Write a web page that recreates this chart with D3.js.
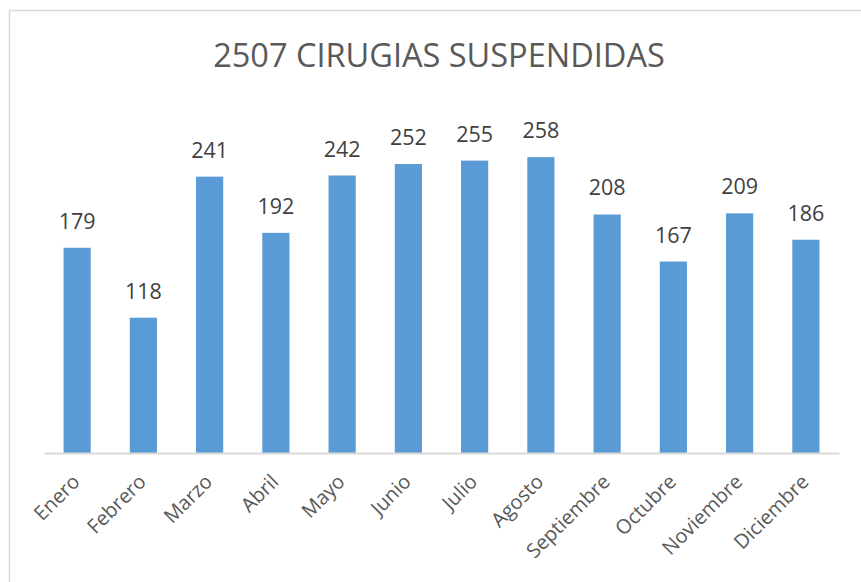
<!DOCTYPE html>
<html>
<head>
<meta charset="utf-8">
<script src="https://cdn.jsdelivr.net/npm/d3@7"></script>
<style>
  html, body { margin: 0; padding: 0; background: #fff; }
  svg { display: block; }
</style>
</head>
<body>
<svg id="chart"></svg>
<script>
// monthly suspended surgeries
const months = ["Enero", "Febrero", "Marzo", "Abril", "Mayo", "Junio", "Julio",
  "Agosto", "Septiembre", "Octubre", "Noviembre", "Diciembre"];
const values = [179, 118, 241, 192, 242, 252, 255, 258, 208, 167, 209, 186];
const title = "2507 CIRUGIAS SUSPENDIDAS";

const width = 861, height = 582;
const font = "'Open Sans', sans-serif";

const svg = d3.select("#chart")
  .attr("width", width)
  .attr("height", height);

// chart frame
svg.append("rect")
  .attr("x", 9.5).attr("y", 10.5)
  .attr("width", 870).attr("height", 600)
  .attr("fill", "#fff")
  .attr("stroke", "#d9d9d9")
  .attr("stroke-width", 1.5);

const x = d3.scaleBand()
  .domain(months)
  .range([44, 839])
  .paddingInner(0.59)
  .paddingOuter(0.295);

const y = d3.scaleLinear()
  .domain([0, 300])
  .range([453, 109]);

// title
svg.append("text")
  .attr("x", 439)
  .attr("y", 67)
  .attr("text-anchor", "middle")
  .attr("font-family", font)
  .attr("font-size", 32.5)
  .attr("fill", "#595959")
  .text(title);

// bars
svg.append("g")
  .selectAll("rect")
  .data(values)
  .join("rect")
  .attr("x", (d, i) => x(months[i]))
  .attr("y", d => y(d))
  .attr("width", x.bandwidth())
  .attr("height", d => y(0) - y(d))
  .attr("fill", "#5b9bd5");

// value labels
svg.append("g")
  .selectAll("text")
  .data(values)
  .join("text")
  .attr("x", (d, i) => x(months[i]) + x.bandwidth() / 2)
  .attr("y", d => y(d) - 19)
  .attr("text-anchor", "middle")
  .attr("font-family", font)
  .attr("font-size", 21.5)
  .attr("fill", "#404040")
  .text(d => d);

// x axis
const xAxis = svg.append("g")
  .attr("transform", `translate(0, ${y(0)})`)
  .call(d3.axisBottom(x).tickSize(0).tickPadding(0));

xAxis.select(".domain")
  .attr("stroke", "#d9d9d9")
  .attr("stroke-width", 2);

xAxis.selectAll("text")
  .attr("font-family", font)
  .attr("font-size", 20)
  .attr("fill", "#595959")
  .attr("text-anchor", "end")
  .attr("dy", null)
  .attr("y", null)
  .attr("transform", "translate(4, 30) rotate(-45)");
</script>
</body>
</html>
